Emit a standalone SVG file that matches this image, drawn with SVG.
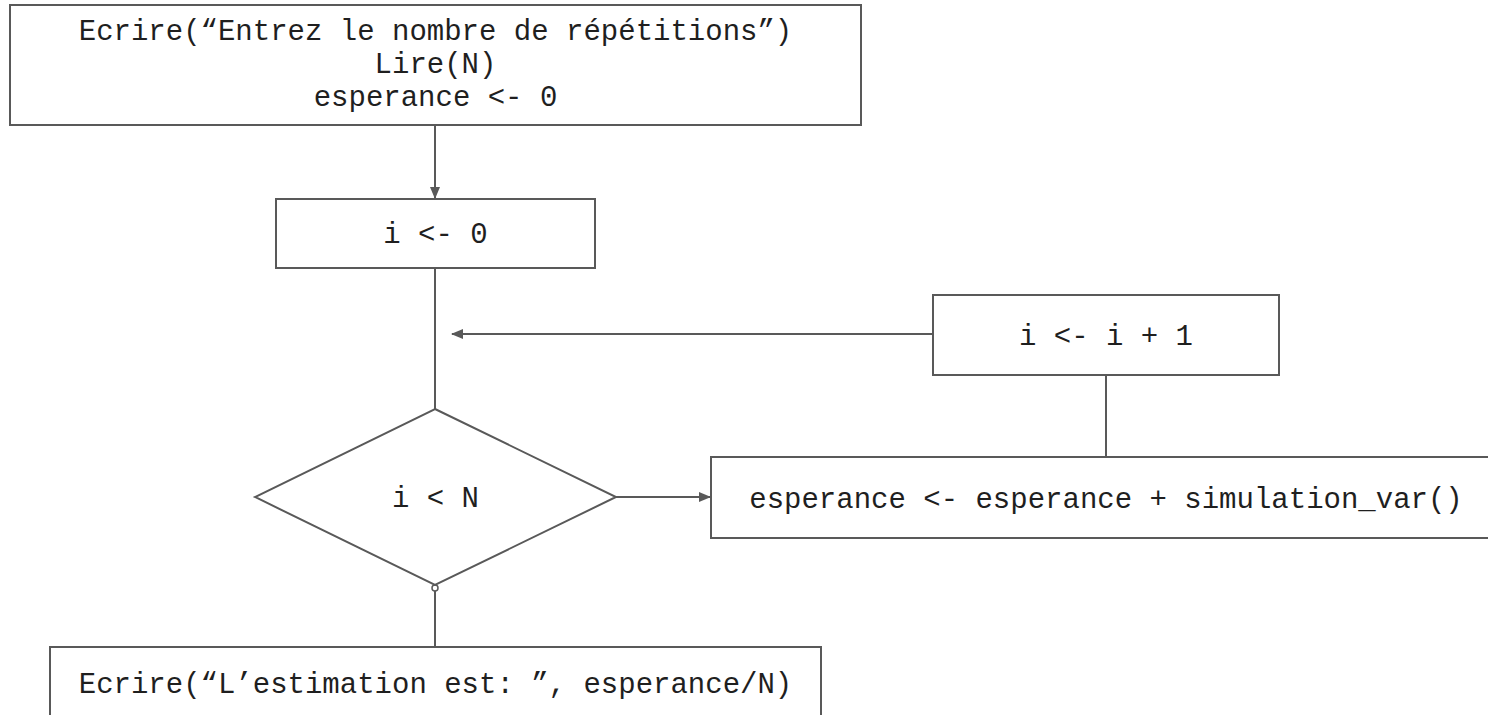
<svg xmlns="http://www.w3.org/2000/svg" width="1488" height="715" viewBox="0 0 1488 715">
  <style>
    .box { fill: #ffffff; stroke: #595959; stroke-width: 2; }
    .edge { fill: none; stroke: #595959; stroke-width: 2; }
    .lbl { font-family: "Liberation Mono", "DejaVu Sans Mono", monospace; font-size: 29px; fill: #1f1f1f; text-anchor: middle; }
  </style>
  <defs>
    <marker id="arrow" viewBox="0 0 12 10" refX="11" refY="5" markerWidth="12" markerHeight="10" markerUnits="userSpaceOnUse" orient="auto">
      <path d="M0,0 L12,5 L0,10 Z" fill="#595959"/>
    </marker>
  </defs>

  <rect width="1488" height="715" fill="#ffffff"/>

  <!-- connectors -->
  <g id="connectors">
    <line class="edge" x1="435" y1="125" x2="435" y2="198" marker-end="url(#arrow)"/>
    <line class="edge" x1="435" y1="268" x2="435" y2="409"/>
    <line class="edge" x1="933" y1="334" x2="452" y2="334" marker-end="url(#arrow)"/>
    <line class="edge" x1="1106" y1="375" x2="1106" y2="457"/>
    <line class="edge" x1="616" y1="497" x2="710" y2="497" marker-end="url(#arrow)"/>
    <line class="edge" x1="435" y1="591" x2="435" y2="647"/>
    <circle cx="435" cy="588" r="3" fill="#ffffff" stroke="#595959" stroke-width="1.5"/>
  </g>

  <g id="node-init">
    <rect class="box" x="10" y="5" width="851" height="120"/>
    <text class="lbl" x="435.5" y="40">Ecrire(“Entrez le nombre de répétitions”)</text>
    <text class="lbl" x="435.5" y="73">Lire(N)</text>
    <text class="lbl" x="435.5" y="106">esperance &lt;- 0</text>
  </g>

  <g id="node-i0">
    <rect class="box" x="276" y="199" width="319" height="69"/>
    <text class="lbl" x="435.5" y="243">i &lt;- 0</text>
  </g>

  <g id="node-cond">
    <polygon class="box" points="435,409 616,497 435,585 255,497"/>
    <text class="lbl" x="435.5" y="507">i &lt; N</text>
  </g>

  <g id="node-incr">
    <rect class="box" x="933" y="295" width="346" height="80"/>
    <text class="lbl" x="1106" y="345">i &lt;- i + 1</text>
  </g>

  <g id="node-accum">
    <rect class="box" x="711" y="457" width="790" height="81"/>
    <text class="lbl" x="1106" y="508">esperance &lt;- esperance + simulation_var()</text>
  </g>

  <g id="node-output">
    <rect class="box" x="50" y="647" width="771" height="90"/>
    <text class="lbl" x="435.5" y="693">Ecrire(“L’estimation est: ”, esperance/N)</text>
  </g>
</svg>
